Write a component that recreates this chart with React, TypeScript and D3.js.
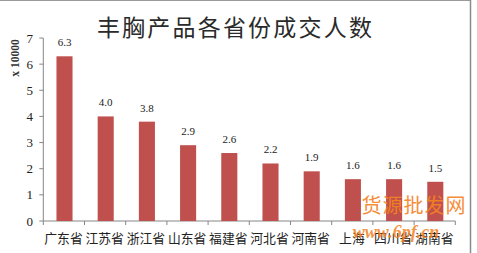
import React from "react";
import * as d3 from "d3";

const categories = ["广东省", "江苏省", "浙江省", "山东省", "福建省", "河北省", "河南省", "上海", "四川省", "湖南省"];
const values = [6.3, 4.0, 3.8, 2.9, 2.6, 2.2, 1.9, 1.6, 1.6, 1.5];
const yTicks = [0, 1, 2, 3, 4, 5, 6, 7];
const title = "丰胸产品各省份成交人数";
const yLabel = "x 10000";
const watermark1 = "货源批发网";
const watermark2 = "www.6pf.cn";

const W = 477;
const H = 253;
const left = 43.3;
const right = 455.3;
const top = 38;
const bottom = 221;

export default function App() {
  const x = d3.scaleBand<string>().domain(categories).range([left, right]).padding(0);
  const y = d3.scaleLinear().domain([0, 7]).range([bottom, top]);
  const barW = x.bandwidth() * 0.39;
  const serif = "'Liberation Serif', 'DejaVu Serif', serif";
  const cjk = "'Noto Sans CJK SC', sans-serif";
  const boundaries = d3.range(categories.length + 1).map((i) => left + i * x.step());
  return (
    <svg width={W} height={H} style={{ position: "absolute", left: 0, top: 0, background: "#fff" }}>
      <rect x={0} y={0} width={W} height={H} fill="#fff" />
      <line x1={0} x2={471} y1={0.5} y2={0.5} stroke="#9a9a9a" />
      <line x1={470.5} x2={470.5} y1={0} y2={H} stroke="#8a8a8a" strokeWidth={1.5} />
      <text x={235.5} y={35.5} textAnchor="middle" fontFamily={cjk} fontSize={23} letterSpacing={2.2} fill="#2a2a2a">
        {title}
      </text>
      <text
        transform={`translate(19,58) rotate(-90)`}
        textAnchor="middle"
        fontFamily={serif}
        fontWeight="bold"
        fontSize={11.5}
        fill="#333"
      >
        {yLabel}
      </text>
      {/* y axis */}
      <line x1={left} x2={left} y1={top} y2={bottom} stroke="#868686" />
      {yTicks.map((t) => (
        <g key={t}>
          <line x1={left - 4} x2={left} y1={y(t)} y2={y(t)} stroke="#868686" />
          <text x={33} y={y(t) + 4.5} textAnchor="end" fontFamily={serif} fontSize={13} fill="#222">
            {t}
          </text>
        </g>
      ))}
      {/* x axis */}
      <line x1={left} x2={right} y1={bottom} y2={bottom} stroke="#868686" />
      {boundaries.map((b, i) => (
        <line key={i} x1={b} x2={b} y1={bottom} y2={bottom + 4} stroke="#868686" />
      ))}
      {categories.map((c, i) => {
        const cx = (x(c) as number) + x.bandwidth() / 2 + 0.6;
        return (
          <g key={c}>
            <rect
              x={cx - barW / 2}
              y={y(values[i])}
              width={barW}
              height={bottom - y(values[i])}
              fill="#C0504D"
            />
            <text x={cx} y={y(values[i]) - 10} textAnchor="middle" fontFamily={serif} fontSize={11} fill="#222">
              {values[i].toFixed(1)}
            </text>
            <text x={cx - 1} y={243} textAnchor="middle" fontFamily={cjk} fontSize={12.8} fill="#222">
              {c}
            </text>
          </g>
        );
      })}
      {/* watermark */}
      <text x={414} y={213} textAnchor="middle" fontFamily={cjk} fontSize={20} fill="#F5821F" opacity={0.9} letterSpacing={1}>
        {watermark1}
      </text>
      <text x={396} y={238} textAnchor="middle" fontFamily={serif} fontStyle="italic" fontWeight="bold" fontSize={18} fill="#F5821F" opacity={0.85}>
        {watermark2}
      </text>
    </svg>
  );
}
